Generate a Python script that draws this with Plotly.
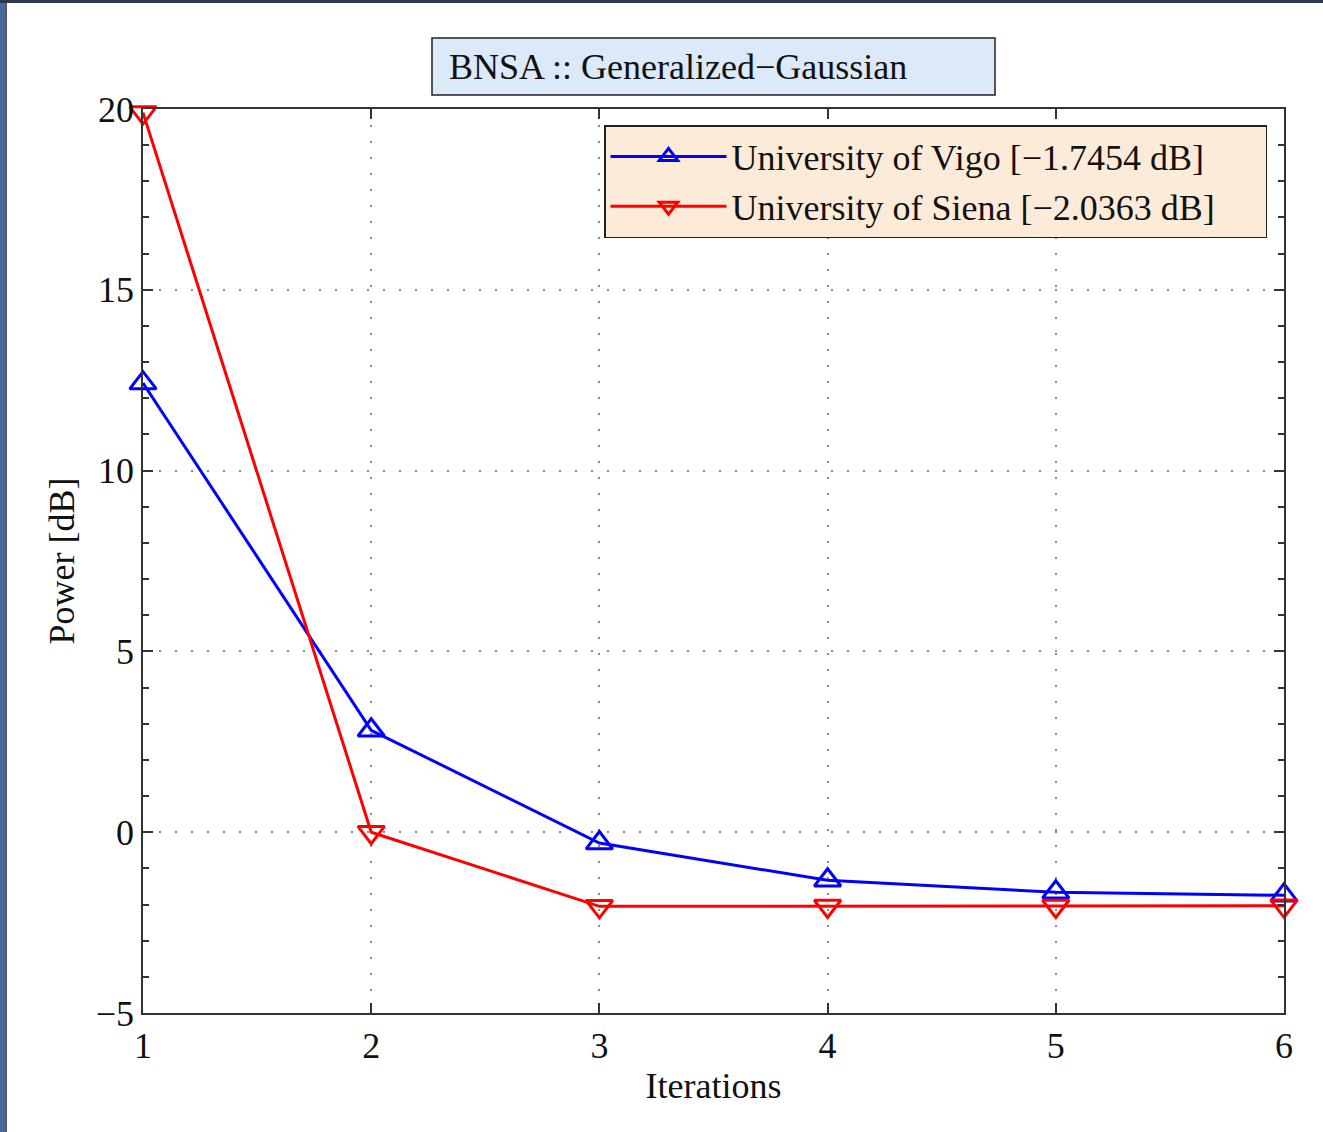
import plotly.graph_objects as go

iterations = [1, 2, 3, 4, 5, 6]
vigo = [12.42, 2.82, -0.30, -1.33, -1.66, -1.7454]
siena = [19.9, 0.0, -2.05, -2.04, -2.04, -2.0363]
vigo_name = "University of Vigo [\u22121.7454 dB]"
siena_name = "University of Siena [\u22122.0363 dB]"
title_text = "BNSA :: Generalized\u2212Gaussian"
ytick_vals = [-5, 0, 5, 10, 15, 20]
ytick_text = ["\u22125", "0", "5", "10", "15", "20"]

W, H = 1323, 1132
L, R, T, B = 143, 39, 109, 119
pw, ph = W - L - R, H - T - B
FONT = "Liberation Serif, Times New Roman, serif"
FS = 36


def px_x(p):
    return (p - L) / pw


def px_y(p):
    return 1 - (p - T) / ph


fig = go.Figure()
fig.add_trace(go.Scatter(
    x=iterations, y=vigo, name=vigo_name, mode="lines+markers",
    line=dict(color="#0000ff", width=3),
    marker=dict(symbol="triangle-up-open", size=23, color="#0000ff", line=dict(width=3)),
    cliponaxis=False))
fig.add_trace(go.Scatter(
    x=iterations, y=siena, name=siena_name, mode="lines+markers",
    line=dict(color="#ff0000", width=3),
    marker=dict(symbol="triangle-down-open", size=23, color="#ff0000", line=dict(width=3)),
    cliponaxis=False))

axis_common = dict(
    showline=True, linecolor="#333333", linewidth=1.5, mirror="ticks",
    ticks="inside", ticklen=10, tickcolor="#333333", tickwidth=1.5,
    showgrid=True, gridcolor="#8c8c8c", griddash="2px,14px", gridwidth=2,
    zeroline=False, tickfont=dict(family=FONT, size=FS, color="#111111"),
)

fig.update_layout(
    width=W, height=H,
    margin=dict(l=L, r=R, t=T, b=B),
    paper_bgcolor="white", plot_bgcolor="white",
    font=dict(family=FONT, color="#111111"),
    xaxis=dict(range=[1, 6], tickvals=iterations, **axis_common,
               title=dict(text="Iterations", font=dict(family=FONT, size=FS), standoff=8)),
    yaxis=dict(range=[-5, 20], tickvals=ytick_vals, ticktext=ytick_text, **axis_common,
               minor=dict(dtick=1, ticks="inside", ticklen=6, tickcolor="#333333", showgrid=False),
               title=dict(text="Power [dB]", font=dict(family=FONT, size=FS), standoff=10)),
    legend=dict(orientation="h", x=px_x(1267), xanchor="right", y=px_y(125), yanchor="top",
                bgcolor="#fdebd9", bordercolor="#222222", borderwidth=1.5,
                font=dict(family=FONT, size=FS, color="#111111"),
                tracegroupgap=0, itemwidth=116, entrywidth=529, entrywidthmode="pixels"),
    showlegend=True,
)

# title box
fig.add_shape(type="rect", xref="paper", yref="paper",
              x0=px_x(432), x1=px_x(995), y0=px_y(95), y1=px_y(38),
              fillcolor="#dce9f8", line=dict(color="#222222", width=1.5), layer="above")
fig.add_annotation(
    text=title_text, xref="paper", yref="paper",
    x=px_x(447), y=px_y(67), xanchor="left", yanchor="middle",
    showarrow=False, font=dict(family=FONT, size=FS, color="#111111"),
)

# page frame (dark blue strip on left and top)
fig.add_shape(type="rect", xref="paper", yref="paper",
              x0=px_x(0), x1=px_x(5), y0=px_y(H), y1=px_y(0),
              fillcolor="#46689a", line=dict(width=0), layer="above")
fig.add_shape(type="rect", xref="paper", yref="paper",
              x0=px_x(0), x1=px_x(W), y0=px_y(3), y1=px_y(0),
              fillcolor="#2b3a52", line=dict(width=0), layer="above")
fig.add_shape(type="line", xref="paper", yref="paper",
              x0=px_x(6), x1=px_x(6), y0=px_y(H), y1=px_y(3),
              line=dict(color="#222222", width=1.5), layer="above")

fig.write_html("out.html", config={"displayModeBar": False},
               post_script="document.body.style.margin='0';document.body.style.padding='0';")
